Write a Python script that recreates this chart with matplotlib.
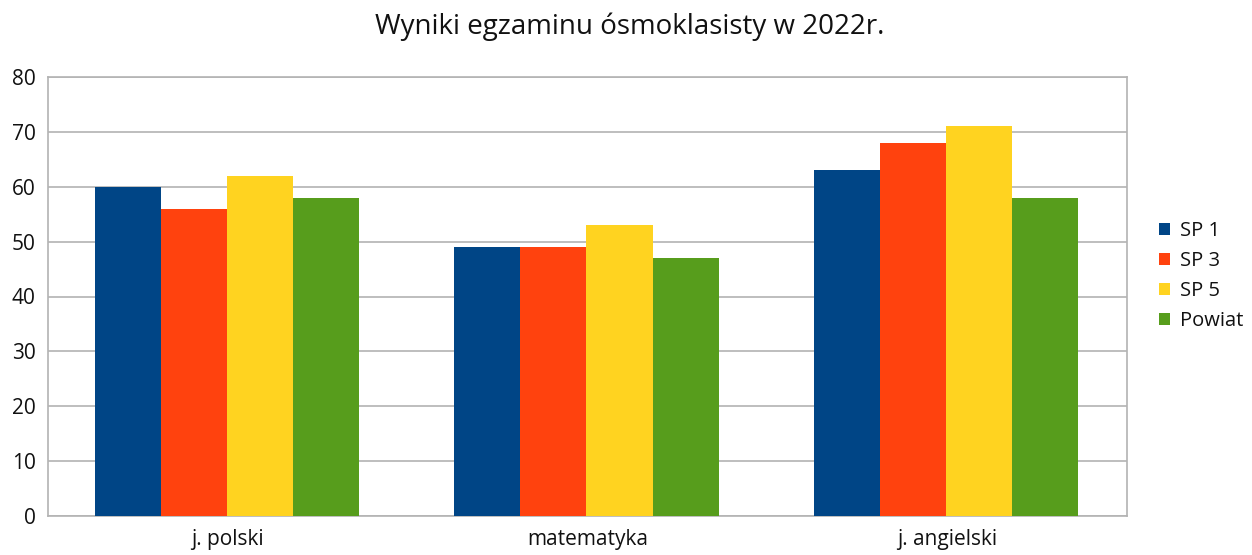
import matplotlib
matplotlib.use("Agg")
import matplotlib.pyplot as plt
import numpy as np

plt.rcParams['font.family'] = ['Open Sans', 'DejaVu Sans']

categories = ["j. polski", "matematyka", "j. angielski"]
series_names = ["SP 1", "SP 3", "SP 5", "Powiat"]
sp1 = [60, 49, 63]
sp3 = [56, 49, 68]
sp5 = [62, 53, 71]
powiat = [58, 47, 58]
colors = ["#004586", "#ff420e", "#ffd320", "#579d1c"]
yticks = [0, 10, 20, 30, 40, 50, 60, 70, 80]

W, H = 1252, 555
fig = plt.figure(figsize=(W / 100, H / 100), dpi=100)
ax = fig.add_axes([48 / W, 1 - 516 / H, (1127 - 48) / W, (516 - 77) / H])

x = np.arange(len(categories))
n = len(series_names)
group = 0.735
bw = group / n
for i, (name, vals) in enumerate(zip(series_names, [sp1, sp3, sp5, powiat])):
    ax.bar(x - group / 2 + bw * (i + 0.5) - 0.003, vals, width=bw, color=colors[i],
           label=name, zorder=3)

ax.set_xlim(-0.5, len(categories) - 0.5)
ax.set_ylim(0, 80)
ax.set_yticks(yticks)
ax.set_xticks(x)
ax.set_xticklabels(categories, fontsize=15)
ax.tick_params(axis='y', labelsize=15, length=0, pad=9, labelcolor='#111111')
ax.tick_params(axis='x', length=0, pad=9, labelcolor='#111111')
ax.grid(axis='y', color='#b3b3b3', linewidth=1.2, zorder=0)
for s in ax.spines.values():
    s.set_color('#b3b3b3')
    s.set_linewidth(1.2)

fig.text(630 / W, 1 - 27 / H, "Wyniki egzaminu ósmoklasisty w 2022r.",
         ha='center', va='center', fontsize=20, color='#111111')

leg = ax.legend(loc='center left', bbox_to_anchor=(1.02, 0.547), frameon=False,
                fontsize=14.5, handlelength=0.55, handleheight=0.55,
                handletextpad=0.5, labelspacing=0.5, borderpad=0)
for t in leg.get_texts():
    t.set_color('#111111')

fig.savefig("out.png", dpi=100)
